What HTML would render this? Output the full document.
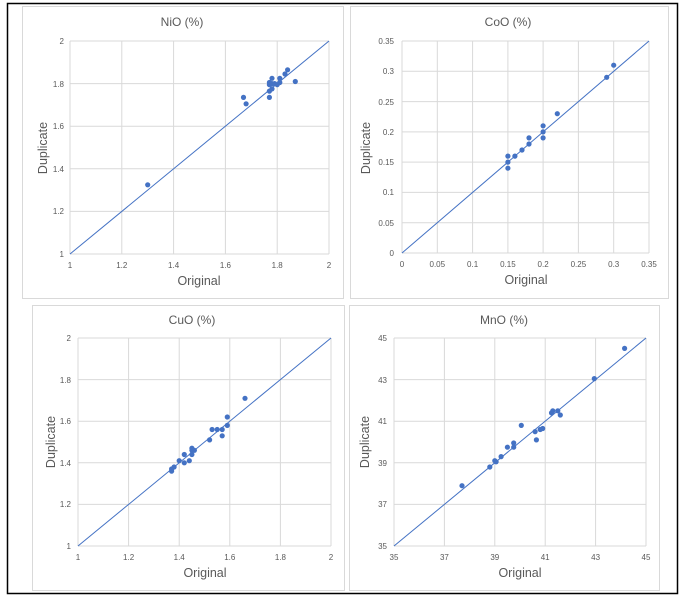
<!DOCTYPE html>
<html><head><meta charset="utf-8"><style>
html,body{margin:0;padding:0;background:#fff;}
svg{display:block;font-family:"Liberation Sans",sans-serif;}
.t{font-size:8px;fill:#595959;}
.ti{font-size:12px;fill:#595959;}
.ax{font-size:12.5px;fill:#595959;}
.g{stroke:#d9d9d9;stroke-width:1;}
.l{stroke:#4472c4;stroke-width:1;}
circle{fill:#4472c4;}
</style></head><body>
<svg width="690" height="600" viewBox="0 0 690 600">
<rect x="7.5" y="3.5" width="670" height="590" fill="#fff" stroke="#000" stroke-width="1.5"/>
<!-- panel boxes -->
<rect x="22.5" y="6.5" width="321" height="292" fill="#fff" stroke="#d9d9d9"/>
<rect x="350.5" y="6.5" width="318" height="292" fill="#fff" stroke="#d9d9d9"/>
<rect x="32.5" y="305.5" width="312" height="285" fill="#fff" stroke="#d9d9d9"/>
<rect x="349.5" y="305.5" width="310" height="285" fill="#fff" stroke="#d9d9d9"/>

<!-- NiO -->
<g class="g">
<line x1="70" y1="41" x2="70" y2="254"/><line x1="121.8" y1="41" x2="121.8" y2="254"/><line x1="173.6" y1="41" x2="173.6" y2="254"/><line x1="225.4" y1="41" x2="225.4" y2="254"/><line x1="277.2" y1="41" x2="277.2" y2="254"/><line x1="329" y1="41" x2="329" y2="254"/>
<line x1="70" y1="41" x2="329" y2="41"/><line x1="70" y1="83.6" x2="329" y2="83.6"/><line x1="70" y1="126.2" x2="329" y2="126.2"/><line x1="70" y1="168.8" x2="329" y2="168.8"/><line x1="70" y1="211.4" x2="329" y2="211.4"/><line x1="70" y1="254" x2="329" y2="254"/>
</g>
<line class="l" x1="70" y1="254" x2="329" y2="41"/>
<g>
<circle cx="147.7" cy="184.8" r="2.6"/><circle cx="243.5" cy="97.4" r="2.6"/><circle cx="246.1" cy="103.8" r="2.6"/><circle cx="269.4" cy="97.4" r="2.6"/><circle cx="269.4" cy="91.1" r="2.6"/><circle cx="269.4" cy="84.7" r="2.6"/><circle cx="269.4" cy="82.5" r="2.6"/><circle cx="272" cy="88.9" r="2.6"/><circle cx="272" cy="78.3" r="2.6"/><circle cx="272" cy="83.6" r="2.6"/><circle cx="274.6" cy="83.6" r="2.6"/><circle cx="277.2" cy="84.7" r="2.6"/><circle cx="279.8" cy="82.5" r="2.6"/><circle cx="279.8" cy="78.3" r="2.6"/><circle cx="285" cy="74" r="2.6"/><circle cx="287.6" cy="69.8" r="2.6"/><circle cx="295.3" cy="81.5" r="2.6"/>
</g>
<text class="ti" x="182" y="26" text-anchor="middle">NiO (%)</text>
<g class="t" text-anchor="end"><text x="64" y="44">2</text><text x="64" y="87">1.8</text><text x="64" y="129">1.6</text><text x="64" y="172">1.4</text><text x="64" y="214">1.2</text><text x="64" y="257">1</text></g>
<g class="t" text-anchor="middle"><text x="70" y="268">1</text><text x="121.8" y="268">1.2</text><text x="173.6" y="268">1.4</text><text x="225.4" y="268">1.6</text><text x="277.2" y="268">1.8</text><text x="329" y="268">2</text></g>
<text class="ax" x="199" y="285" text-anchor="middle">Original</text>
<text class="ax" transform="translate(47,148) rotate(-90)" text-anchor="middle">Duplicate</text>

<!-- CoO -->
<g class="g">
<line x1="402" y1="41" x2="402" y2="253"/><line x1="437.3" y1="41" x2="437.3" y2="253"/><line x1="472.6" y1="41" x2="472.6" y2="253"/><line x1="507.9" y1="41" x2="507.9" y2="253"/><line x1="543.1" y1="41" x2="543.1" y2="253"/><line x1="578.4" y1="41" x2="578.4" y2="253"/><line x1="613.7" y1="41" x2="613.7" y2="253"/><line x1="649" y1="41" x2="649" y2="253"/>
<line x1="402" y1="41" x2="649" y2="41"/><line x1="402" y1="71.3" x2="649" y2="71.3"/><line x1="402" y1="101.6" x2="649" y2="101.6"/><line x1="402" y1="131.9" x2="649" y2="131.9"/><line x1="402" y1="162.1" x2="649" y2="162.1"/><line x1="402" y1="192.4" x2="649" y2="192.4"/><line x1="402" y1="222.7" x2="649" y2="222.7"/><line x1="402" y1="253" x2="649" y2="253"/>
</g>
<line class="l" x1="402" y1="253" x2="649" y2="41"/>
<g>
<circle cx="507.9" cy="156.1" r="2.6"/><circle cx="507.9" cy="162.1" r="2.6"/><circle cx="507.9" cy="168.2" r="2.6"/><circle cx="514.9" cy="156.1" r="2.6"/><circle cx="522" cy="150" r="2.6"/><circle cx="529" cy="137.9" r="2.6"/><circle cx="529" cy="144" r="2.6"/><circle cx="543.1" cy="125.8" r="2.6"/><circle cx="543.1" cy="131.9" r="2.6"/><circle cx="543.1" cy="137.9" r="2.6"/><circle cx="557.3" cy="113.7" r="2.6"/><circle cx="606.7" cy="77.3" r="2.6"/><circle cx="613.7" cy="65.2" r="2.6"/>
</g>
<text class="ti" x="508" y="26" text-anchor="middle">CoO (%)</text>
<g class="t" text-anchor="end"><text x="394" y="44">0.35</text><text x="394" y="74">0.3</text><text x="394" y="105">0.25</text><text x="394" y="135">0.2</text><text x="394" y="165">0.15</text><text x="394" y="195">0.1</text><text x="394" y="226">0.05</text><text x="394" y="256">0</text></g>
<g class="t" text-anchor="middle"><text x="402" y="267">0</text><text x="437.3" y="267">0.05</text><text x="472.6" y="267">0.1</text><text x="507.9" y="267">0.15</text><text x="543.1" y="267">0.2</text><text x="578.4" y="267">0.25</text><text x="613.7" y="267">0.3</text><text x="649" y="267">0.35</text></g>
<text class="ax" x="526" y="284" text-anchor="middle">Original</text>
<text class="ax" transform="translate(370,148) rotate(-90)" text-anchor="middle">Duplicate</text>

<!-- CuO -->
<g class="g">
<line x1="78" y1="338" x2="78" y2="546"/><line x1="128.6" y1="338" x2="128.6" y2="546"/><line x1="179.2" y1="338" x2="179.2" y2="546"/><line x1="229.8" y1="338" x2="229.8" y2="546"/><line x1="280.4" y1="338" x2="280.4" y2="546"/><line x1="331" y1="338" x2="331" y2="546"/>
<line x1="78" y1="338" x2="331" y2="338"/><line x1="78" y1="379.6" x2="331" y2="379.6"/><line x1="78" y1="421.2" x2="331" y2="421.2"/><line x1="78" y1="462.8" x2="331" y2="462.8"/><line x1="78" y1="504.4" x2="331" y2="504.4"/><line x1="78" y1="546" x2="331" y2="546"/>
</g>
<line class="l" x1="78" y1="546" x2="331" y2="338"/>
<g>
<circle cx="171.6" cy="471.1" r="2.6"/><circle cx="171.6" cy="469" r="2.6"/><circle cx="174.1" cy="467" r="2.6"/><circle cx="179.2" cy="460.7" r="2.6"/><circle cx="184.3" cy="454.5" r="2.6"/><circle cx="184.3" cy="462.8" r="2.6"/><circle cx="189.3" cy="460.7" r="2.6"/><circle cx="191.9" cy="454.5" r="2.6"/><circle cx="191.9" cy="450.3" r="2.6"/><circle cx="191.9" cy="448.2" r="2.6"/><circle cx="194.4" cy="450.3" r="2.6"/><circle cx="209.6" cy="439.9" r="2.6"/><circle cx="212.1" cy="429.5" r="2.6"/><circle cx="217.2" cy="429.5" r="2.6"/><circle cx="222.2" cy="429.5" r="2.6"/><circle cx="222.2" cy="435.8" r="2.6"/><circle cx="227.3" cy="425.4" r="2.6"/><circle cx="227.3" cy="417" r="2.6"/><circle cx="245" cy="398.3" r="2.6"/>
</g>
<text class="ti" x="192" y="324" text-anchor="middle">CuO (%)</text>
<g class="t" text-anchor="end"><text x="71" y="341">2</text><text x="71" y="383">1.8</text><text x="71" y="424">1.6</text><text x="71" y="466">1.4</text><text x="71" y="507">1.2</text><text x="71" y="549">1</text></g>
<g class="t" text-anchor="middle"><text x="78" y="560">1</text><text x="128.6" y="560">1.2</text><text x="179.2" y="560">1.4</text><text x="229.8" y="560">1.6</text><text x="280.4" y="560">1.8</text><text x="331" y="560">2</text></g>
<text class="ax" x="205" y="577" text-anchor="middle">Original</text>
<text class="ax" transform="translate(55,442) rotate(-90)" text-anchor="middle">Duplicate</text>

<!-- MnO -->
<g class="g">
<line x1="394" y1="338" x2="394" y2="546"/><line x1="444.4" y1="338" x2="444.4" y2="546"/><line x1="494.8" y1="338" x2="494.8" y2="546"/><line x1="545.2" y1="338" x2="545.2" y2="546"/><line x1="595.6" y1="338" x2="595.6" y2="546"/><line x1="646" y1="338" x2="646" y2="546"/>
<line x1="394" y1="338" x2="646" y2="338"/><line x1="394" y1="379.6" x2="646" y2="379.6"/><line x1="394" y1="421.2" x2="646" y2="421.2"/><line x1="394" y1="462.8" x2="646" y2="462.8"/><line x1="394" y1="504.4" x2="646" y2="504.4"/><line x1="394" y1="546" x2="646" y2="546"/>
</g>
<line class="l" x1="394" y1="546" x2="646" y2="338"/>
<g>
<circle cx="462" cy="485.7" r="2.6"/><circle cx="489.8" cy="467" r="2.6"/><circle cx="494.8" cy="460.7" r="2.6"/><circle cx="496.1" cy="461.8" r="2.6"/><circle cx="501.1" cy="456.6" r="2.6"/><circle cx="507.4" cy="447.2" r="2.6"/><circle cx="513.7" cy="447.2" r="2.6"/><circle cx="513.7" cy="443" r="2.6"/><circle cx="521.3" cy="425.4" r="2.6"/><circle cx="535.1" cy="431.6" r="2.6"/><circle cx="536.4" cy="439.9" r="2.6"/><circle cx="540.2" cy="429.5" r="2.6"/><circle cx="542.7" cy="428.5" r="2.6"/><circle cx="551.5" cy="412.9" r="2.6"/><circle cx="552.8" cy="410.8" r="2.6"/><circle cx="557.8" cy="410.8" r="2.6"/><circle cx="560.3" cy="415" r="2.6"/><circle cx="594.3" cy="378.6" r="2.6"/><circle cx="624.6" cy="348.4" r="2.6"/>
</g>
<text class="ti" x="504" y="324" text-anchor="middle">MnO (%)</text>
<g class="t" text-anchor="end"><text x="387" y="341">45</text><text x="387" y="383">43</text><text x="387" y="424">41</text><text x="387" y="466">39</text><text x="387" y="507">37</text><text x="387" y="549">35</text></g>
<g class="t" text-anchor="middle"><text x="394" y="560">35</text><text x="444.4" y="560">37</text><text x="494.8" y="560">39</text><text x="545.2" y="560">41</text><text x="595.6" y="560">43</text><text x="646" y="560">45</text></g>
<text class="ax" x="520" y="577" text-anchor="middle">Original</text>
<text class="ax" transform="translate(369,442) rotate(-90)" text-anchor="middle">Duplicate</text>
</svg>
</body></html>
